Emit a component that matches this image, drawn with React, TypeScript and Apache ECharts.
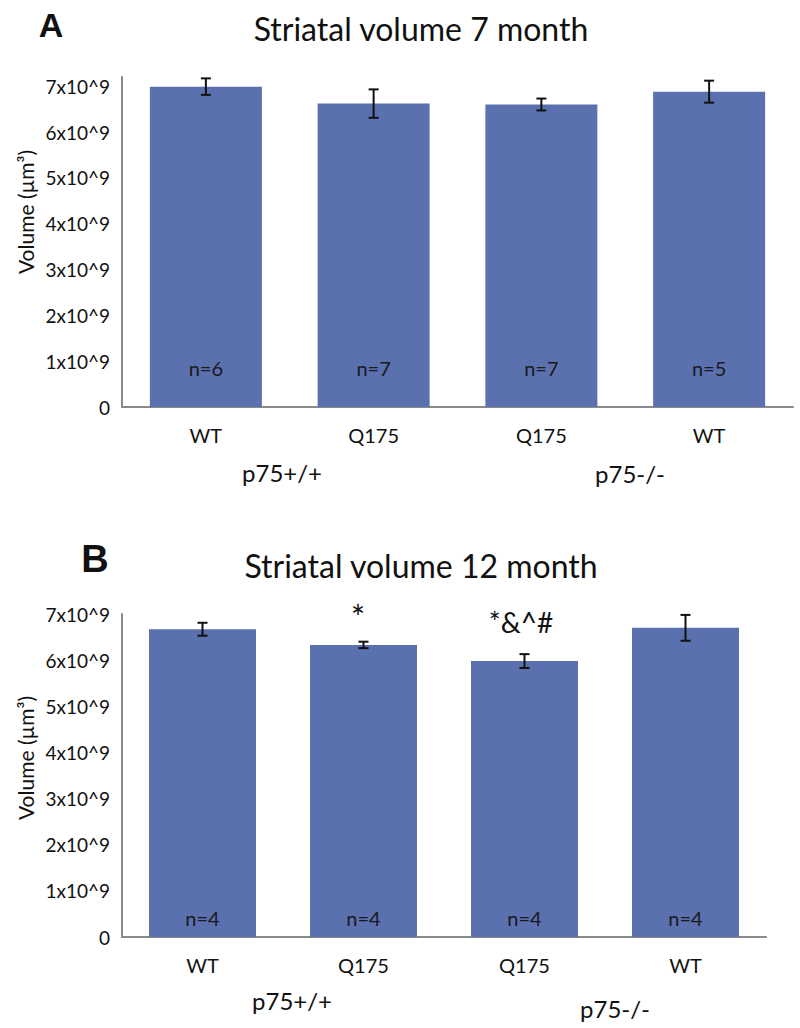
import React, { useEffect, useRef } from "react";
import * as echarts from "echarts";

const categories = ["WT", "Q175", "Q175", "WT"];
const vol7 = [6.99e9, 6.62e9, 6.6e9, 6.88e9];
const err7 = [0.18e9, 0.31e9, 0.13e9, 0.24e9];
const n7 = ["n=6", "n=7", "n=7", "n=5"];
const vol12 = [6.67e9, 6.33e9, 5.98e9, 6.7e9];
const err12 = [0.14e9, 0.07e9, 0.15e9, 0.28e9];
const n12 = ["n=4", "n=4", "n=4", "n=4"];
const yTicks = ["0", "1x10^9", "2x10^9", "3x10^9", "4x10^9", "5x10^9", "6x10^9", "7x10^9"];

const FONT = "Lato, 'Open Sans', sans-serif";
const BAR = "#5b70ae";
const AXIS = "#8a8a8a";

function errorSeries(values: number[], errs: number[], idx: number) {
  return {
    type: "custom",
    xAxisIndex: idx,
    yAxisIndex: idx,
    z: 5,
    data: values.map((v, i) => [i, v, errs[i]]),
    renderItem: (params: any, api: any) => {
      const x = api.value(0);
      const y = api.value(1);
      const e = api.value(2);
      const top = api.coord([x, y + e]);
      const bot = api.coord([x, y - e]);
      const w = 5;
      const style = { stroke: "#111", lineWidth: 2 };
      return {
        type: "group",
        children: [
          { type: "line", shape: { x1: top[0], y1: top[1], x2: bot[0], y2: bot[1] }, style },
          { type: "line", shape: { x1: top[0] - w, y1: top[1], x2: top[0] + w, y2: top[1] }, style },
          { type: "line", shape: { x1: bot[0] - w, y1: bot[1], x2: bot[0] + w, y2: bot[1] }, style },
        ],
      };
    },
  };
}

function barSeries(values: number[], labels: string[], idx: number, width: number, dist: number) {
  return {
    type: "bar",
    xAxisIndex: idx,
    yAxisIndex: idx,
    barWidth: width,
    data: values,
    itemStyle: { color: BAR },
    label: {
      show: true,
      position: "insideBottom",
      distance: dist,
      formatter: (p: any) => labels[p.dataIndex],
      color: "#1a1a1a",
      fontSize: 20,
      fontFamily: FONT,
    },
  };
}

function xAxis(idx: number) {
  return {
    type: "category",
    gridIndex: idx,
    data: categories,
    axisLine: { lineStyle: { color: AXIS, width: 2 } },
    axisTick: { show: false },
    axisLabel: { color: "#111", fontSize: 20, fontFamily: FONT, margin: 18 },
  };
}

function yAxis(idx: number, max: number) {
  return {
    type: "value",
    gridIndex: idx,
    min: 0,
    max,
    interval: 1e9,
    axisLine: { show: true, lineStyle: { color: AXIS, width: 2 } },
    axisTick: { show: false },
    splitLine: { show: false },
    axisLabel: {
      color: "#111",
      fontSize: 19,
      fontFamily: FONT,
      margin: 12,
      formatter: (v: number) => {
        const k = Math.round(v / 1e9);
        return Math.abs(v - k * 1e9) < 1 ? yTicks[k] : "";
      },
    },
  };
}

function txt(text: string, x: number, y: number, size: number, extra: any = {}) {
  return {
    type: "text",
    x,
    y,
    rotation: extra.rotation || 0,
    style: {
      text,
      fontSize: size,
      fontFamily: extra.family || FONT,
      fontWeight: extra.weight || "normal",
      fill: "#111",
      textAlign: extra.align || "center",
      textVerticalAlign: "middle",
    },
  };
}

export default function App() {
  const ref = useRef<HTMLDivElement>(null);
  useEffect(() => {
    document.body.style.margin = "0";
    const chart = echarts.init(ref.current!, null, { renderer: "svg" });
    chart.setOption({
      animation: false,
      backgroundColor: "#fff",
      grid: [
        { left: 122, top: 77, width: 671, height: 330 },
        { left: 122, top: 614, width: 644, height: 323 },
      ],
      xAxis: [xAxis(0), xAxis(1)],
      yAxis: [yAxis(0, 7.2e9), yAxis(1, 7e9)],
      series: [
        barSeries(vol7, n7, 0, 112, 29),
        errorSeries(vol7, err7, 0),
        barSeries(vol12, n12, 1, 107, 9),
        errorSeries(vol12, err12, 1),
      ],
      graphic: [
        txt("A", 51, 25, 34, { weight: "bold", family: "'Liberation Sans', Arial, sans-serif" }),
        txt("Striatal volume 7 month", 421, 28, 32),
        txt("Volume (µm³)", 25, 212, 21, { rotation: Math.PI / 2 }),
        txt("p75+/+", 282, 472, 24),
        txt("p75-/-", 630, 473, 24),
        txt("B", 95, 559, 38, { weight: "bold", family: "'Liberation Sans', Arial, sans-serif" }),
        txt("Striatal volume 12 month", 421, 565, 32),
        txt("Volume (µm³)", 25, 758, 21, { rotation: Math.PI / 2 }),
        txt("*", 358, 616, 34),
        txt("*&^#", 521, 622, 28),
        txt("p75+/+", 292, 1000, 24),
        txt("p75-/-", 615, 1008, 24),
      ],
    });
    return () => chart.dispose();
  }, []);
  return <div ref={ref} style={{ width: 800, height: 1028 }} />;
}
